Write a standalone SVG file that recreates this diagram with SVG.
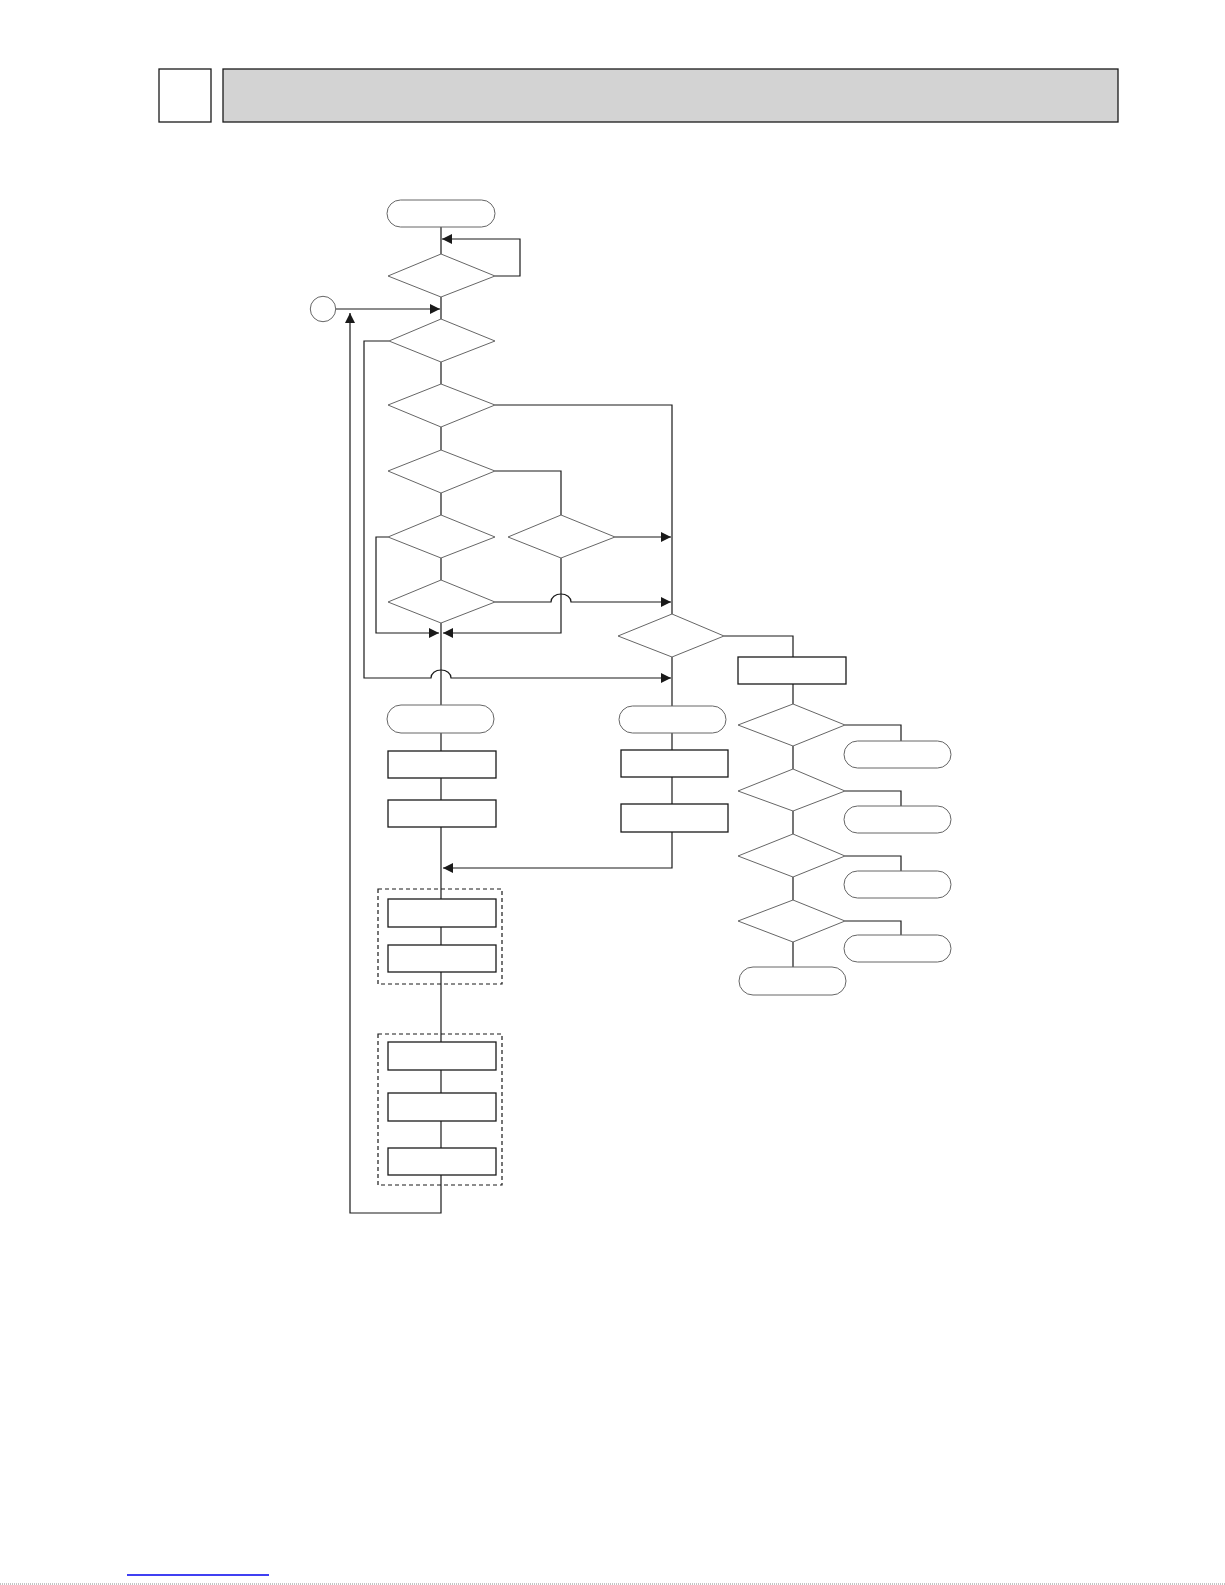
<svg xmlns="http://www.w3.org/2000/svg" width="1225" height="1585" viewBox="0 0 1225 1585">
<style>
.dec{fill:#fff;stroke:#666;stroke-width:1}
.term{fill:#fff;stroke:#666;stroke-width:1}
.box{fill:#fff;stroke:#1a1a1a;stroke-width:1.3}
.grp{fill:none;stroke:#1a1a1a;stroke-width:1.2;stroke-dasharray:4 3}
.ln{fill:none;stroke:#1a1a1a;stroke-width:1.2}
.arr{fill:none;stroke:#1a1a1a;stroke-width:1.2;marker-end:url(#ah)}
</style>
<defs>
<marker id="ah" markerUnits="userSpaceOnUse" markerWidth="11" markerHeight="10" refX="10" refY="5" orient="auto">
<path d="M0,0 L10,5 L0,10 Z" fill="#1a1a1a"/>
</marker>
</defs>
<rect width="1225" height="1585" fill="#fff"/>
<g id="header">
<rect x="159" y="69" width="52" height="53" fill="#fff" stroke="#1a1a1a" stroke-width="1.3"/>
<rect x="223" y="69" width="895" height="53" fill="#d3d3d3" stroke="#1a1a1a" stroke-width="1.3"/>
</g>
<g id="connectors">
<path class="ln" d="M441,227 V254"/>
<path class="arr" d="M495,276 H520 V239 H442"/>
<path class="ln" d="M441,297 V319"/>
<path class="arr" d="M336,309 H440"/>
<path class="ln" d="M441,362 V384"/>
<path class="ln" d="M441,427 V450"/>
<path class="ln" d="M441,493 V515"/>
<path class="ln" d="M441,558 V580"/>
<path class="ln" d="M441,623 V705"/>
<path class="ln" d="M495,405 H672 V614"/>
<path class="ln" d="M495,471 H561 V515"/>
<path class="arr" d="M615,537 H671"/>
<path class="arr" d="M495,602 H551 A10,8 0 0 1 571,602 H671"/>
<path class="arr" d="M388,537 H376 V633 H439"/>
<path class="arr" d="M561,558 V633 H443"/>
<path class="arr" d="M389,341 H364 V678 H431 A10,8 0 0 1 451,678 H671"/>
<path class="ln" d="M672,657 V706"/>
<path class="ln" d="M724,636 H793 V657"/>
<path class="ln" d="M672,733 V750"/>
<path class="ln" d="M672,777 V804"/>
<path class="arr" d="M672,832 V868 H443"/>
<path class="ln" d="M441,733 V751"/>
<path class="ln" d="M441,778 V800"/>
<path class="ln" d="M441,827 V899"/>
<path class="ln" d="M441,927 V945"/>
<path class="ln" d="M441,972 V1042"/>
<path class="ln" d="M441,1070 V1093"/>
<path class="ln" d="M441,1121 V1148"/>
<path class="arr" d="M441,1175 V1213 H350 V313"/>
<path class="ln" d="M793,684 V704"/>
<path class="ln" d="M793,746 V769"/>
<path class="ln" d="M793,811 V834"/>
<path class="ln" d="M793,877 V900"/>
<path class="ln" d="M793,942 V967"/>
<path class="ln" d="M845,725 H901 V741"/>
<path class="ln" d="M845,791 H901 V806"/>
<path class="ln" d="M845,856 H901 V871"/>
<path class="ln" d="M845,921 H901 V935"/>
</g>
<g id="start"><rect class="term" x="387" y="200" width="108" height="27" rx="13.5"/></g>
<g id="d1"><polygon class="dec" points="441,254 495,276 441,297 388,276"/></g>
<g id="connector-circle"><circle cx="323" cy="309" r="12.7" fill="#fff" stroke="#666" stroke-width="1"/></g>
<g id="d2"><polygon class="dec" points="441,319 495,341 441,362 389,341"/></g>
<g id="d3"><polygon class="dec" points="441,384 495,405 441,427 388,405"/></g>
<g id="d4"><polygon class="dec" points="441,450 495,471 441,493 388,471"/></g>
<g id="d5"><polygon class="dec" points="441,515 495,537 441,558 388,537"/></g>
<g id="d5b"><polygon class="dec" points="561,515 615,537 561,558 508,537"/></g>
<g id="d6"><polygon class="dec" points="441,580 495,602 441,623 388,602"/></g>
<g id="dR"><polygon class="dec" points="672,614 724,636 672,657 618,636"/></g>
<g id="rectR"><rect class="box" x="738" y="657" width="108" height="27"/></g>
<g id="termL"><rect class="term" x="387" y="705" width="107" height="28" rx="14"/></g>
<g id="termR"><rect class="term" x="619" y="706" width="107" height="27" rx="13.5"/></g>
<g id="boxRA"><rect class="box" x="621" y="750" width="107" height="27"/></g>
<g id="boxRB"><rect class="box" x="621" y="804" width="107" height="28"/></g>
<g id="boxL1"><rect class="box" x="388" y="751" width="108" height="27"/></g>
<g id="boxL2"><rect class="box" x="388" y="800" width="108" height="27"/></g>
<g id="group1"><rect class="grp" x="378" y="889" width="124" height="95"/>
<rect class="box" x="388" y="899" width="108" height="28"/>
<rect class="box" x="388" y="945" width="108" height="27"/></g>
<g id="group2"><rect class="grp" x="378" y="1034" width="124" height="151"/>
<rect class="box" x="388" y="1042" width="108" height="28"/>
<rect class="box" x="388" y="1093" width="108" height="28"/>
<rect class="box" x="388" y="1148" width="108" height="27"/></g>
<g id="dS1"><polygon class="dec" points="793,704 845,725 793,746 738,725"/></g>
<g id="dS2"><polygon class="dec" points="793,769 845,791 793,811 738,791"/></g>
<g id="dS3"><polygon class="dec" points="793,834 845,856 793,877 738,856"/></g>
<g id="dS4"><polygon class="dec" points="793,900 845,921 793,942 738,921"/></g>
<g id="t1"><rect class="term" x="844" y="741" width="107" height="27" rx="13.5"/></g>
<g id="t2"><rect class="term" x="844" y="806" width="107" height="27" rx="13.5"/></g>
<g id="t3"><rect class="term" x="844" y="871" width="107" height="27" rx="13.5"/></g>
<g id="t4"><rect class="term" x="844" y="935" width="107" height="27" rx="13.5"/></g>
<g id="t5"><rect class="term" x="739" y="967" width="107" height="28" rx="14"/></g>
<g id="footer">
<line x1="127" y1="1575" x2="269" y2="1575" stroke="#0000ee" stroke-width="1.5"/>
<line x1="0" y1="1584" x2="1225" y2="1584" stroke="#888" stroke-width="1" stroke-dasharray="1 1"/>
</g>
</svg>
